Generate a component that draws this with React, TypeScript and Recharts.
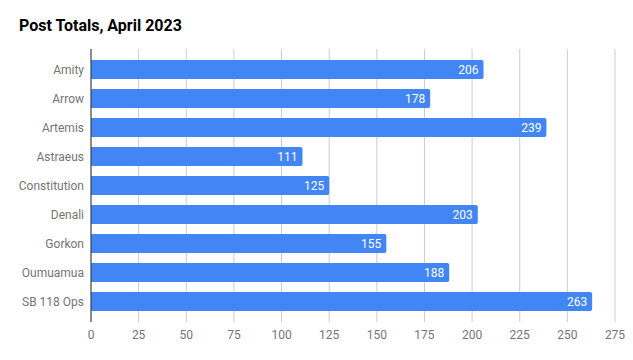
import { BarChart, Bar, XAxis, YAxis, CartesianGrid, LabelList } from "recharts";

const ships = [
  "Amity",
  "Arrow",
  "Artemis",
  "Astraeus",
  "Constitution",
  "Denali",
  "Gorkon",
  "Oumuamua",
  "SB 118 Ops",
];
const postTotals = [206, 178, 239, 111, 125, 203, 155, 188, 263];
const xTicks = [0, 25, 50, 75, 100, 125, 150, 175, 200, 225, 250, 275];

const data = ships.map((name, i) => ({ name, posts: postTotals[i] }));

const font = "Roboto, 'Noto Sans', sans-serif";

export default function App() {
  return (
    <div
      style={{
        position: "absolute",
        left: 0,
        top: 0,
        width: 633,
        height: 360,
        background: "#fff",
        fontFamily: font,
      }}
    >
      <div
        style={{
          position: "absolute",
          left: 19,
          top: 16,
          fontSize: 16,
          fontWeight: 700,
          color: "#000",
          lineHeight: "20px",
        }}
      >
        Post Totals, April 2023
      </div>
      <BarChart
        width={633}
        height={360}
        data={data}
        layout="vertical"
        margin={{ top: 49, right: 18, bottom: 8, left: 0 }}
      >
        <CartesianGrid horizontal={false} stroke="#cccccc" />
        <XAxis
          type="number"
          domain={[0, 275]}
          ticks={xTicks}
          interval={0}
          axisLine={false}
          tickLine={false}
          height={30}
          tick={{ fill: "#757575", fontSize: 12, fontFamily: font }}
        />
        <YAxis
          type="category"
          dataKey="name"
          width={91}
          interval={0}
          padding={{ top: 6, bottom: 6 }}
          tickLine={false}
          tickMargin={1}
          axisLine={{ stroke: "#333333" }}
          tick={{ fill: "#757575", fontSize: 12, fontFamily: font }}
        />
        <Bar
          dataKey="posts"
          fill="#4285f4"
          barSize={19}
          radius={[0, 2, 2, 0]}
          isAnimationActive={false}
        >
          <LabelList
            dataKey="posts"
            position="insideRight"
            offset={5}
            fill="#ffffff"
            fontSize={12}
            fontFamily={font}
          />
        </Bar>
      </BarChart>
    </div>
  );
}
